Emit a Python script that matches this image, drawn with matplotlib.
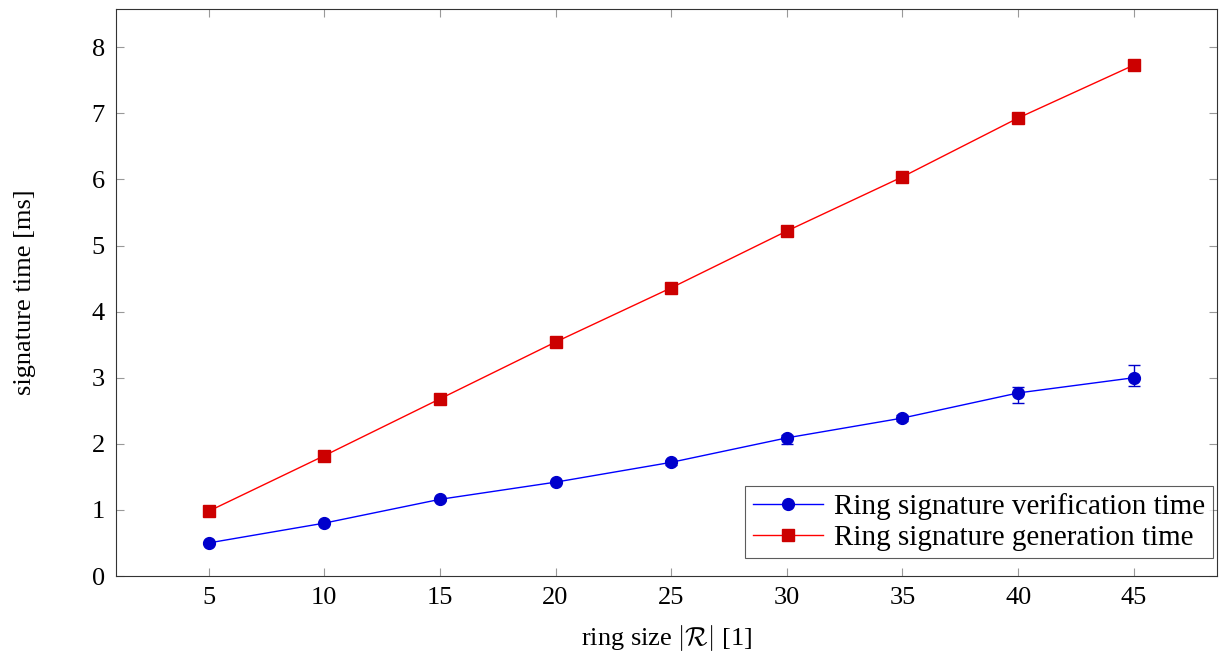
import numpy as np
import matplotlib
matplotlib.use("Agg")
import matplotlib.pyplot as plt
from matplotlib.lines import Line2D

plt.rcParams['font.family'] = ['Liberation Serif', 'DejaVu Serif']
plt.rcParams['mathtext.fontset'] = 'cm'

# Data
ring_size = [5, 10, 15, 20, 25, 30, 35, 40, 45]
verify_ms = [0.50, 0.80, 1.16, 1.42, 1.72, 2.09, 2.39, 2.77, 3.00]
verify_err_lo = [0.01, 0.02, 0.02, 0.02, 0.04, 0.09, 0.05, 0.15, 0.13]
verify_err_hi = [0.01, 0.02, 0.02, 0.02, 0.04, 0.05, 0.05, 0.09, 0.19]
generate_ms = [0.98, 1.82, 2.68, 3.54, 4.36, 5.22, 6.04, 6.93, 7.73]

fig = plt.figure(figsize=(12.19, 6.55), dpi=100)
ax = fig.add_axes([0.0952, 0.1206, 0.9032, 0.8657])

ax.errorbar(ring_size, verify_ms, yerr=[verify_err_lo, verify_err_hi],
            color='#0000ff', lw=1.0, marker='o', ms=8.5,
            mfc='#0000cc', mec='#0000cc', ecolor='#0000cc', elinewidth=1.0,
            capsize=4, capthick=1.0)
ax.plot(ring_size, generate_ms, color='#ff0000', lw=1.0, marker='s', ms=8.5,
        mfc='#cc0000', mec='#cc0000')

ax.set_xlim(1, 48.6)
ax.set_ylim(0, 8.58)
ax.set_xticks(ring_size)
ax.set_yticks(range(0, 9))

ax.tick_params(direction='in', length=6, width=0.8, color='#999999',
               top=True, right=True, labelsize=19, pad=8)
for sp in ax.spines.values():
    sp.set_linewidth(0.8)
    sp.set_color('#333333')

ax.set_xlabel(r'ring size $|\mathcal{R}|$ [1]', fontsize=19, labelpad=10)
ax.set_ylabel('signature time [ms]', fontsize=19, labelpad=40)

handles = [
    Line2D([], [], color='#0000ff', lw=1.0, marker='o', ms=8.5,
           mfc='#0000cc', mec='#0000cc'),
    Line2D([], [], color='#ff0000', lw=1.0, marker='s', ms=8.5,
           mfc='#cc0000', mec='#cc0000'),
]
labels = ['Ring signature verification time', 'Ring signature generation time']
leg = ax.legend(handles, labels, loc='lower right', fontsize=21, frameon=True,
                fancybox=False, edgecolor='#333333', borderpad=0.25,
                handlelength=2.4, handletextpad=0.4, labelspacing=0.15,
                borderaxespad=0, bbox_to_anchor=(0.996, 0.031))
leg.get_frame().set_linewidth(0.8)

fig.savefig('out.png', dpi=100)
